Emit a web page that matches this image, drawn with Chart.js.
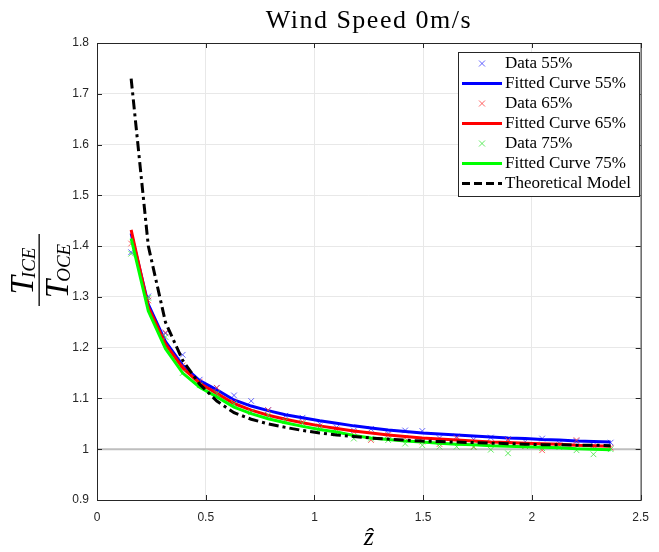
<!DOCTYPE html>
<html>
<head>
<meta charset="utf-8">
<script src="https://cdn.jsdelivr.net/npm/chart.js@4/dist/chart.umd.min.js"></script>
<style>
  html, body { margin: 0; padding: 0; background: #fff; }
  #wrap { width: 659px; height: 552px; }
</style>
</head>
<body>
<div id="wrap"><canvas id="chart" width="659" height="552"></canvas></div>
<script>
const zHat = [0.157, 0.236, 0.315, 0.394, 0.472, 0.551, 0.630, 0.709, 0.787, 0.866, 0.945, 1.024, 1.102, 1.181, 1.260,
  1.339, 1.417, 1.496, 1.575, 1.654, 1.732, 1.811, 1.890, 1.969, 2.047, 2.126, 2.205, 2.283, 2.362]

const data55 = [1.388, 1.301, 1.228, 1.186, 1.137, 1.121, 1.106, 1.095, 1.077, 1.066, 1.062, 1.050, 1.043, 1.037, 1.040,
  1.031, 1.037, 1.036, 1.022, 1.025, 1.019, 1.023, 1.020, 1.015, 1.021, 1.012, 1.016, 1.008, 1.013]
const fit55 = [1.425, 1.285, 1.212, 1.165, 1.135, 1.117, 1.097, 1.085, 1.076, 1.068, 1.062, 1.056, 1.051, 1.046, 1.042,
  1.038, 1.035, 1.032, 1.030, 1.028, 1.026, 1.024, 1.022, 1.021, 1.019, 1.018, 1.016, 1.015, 1.014]

const data65 = [1.405, 1.293, 1.230, 1.165, 1.133, 1.121, 1.093, 1.073, 1.077, 1.056, 1.054, 1.045, 1.039, 1.034, 1.018,
  1.028, 1.022, 1.015, 1.010, 1.022, 1.005, 1.012, 1.018, 1.006, 0.998, 1.008, 1.018, 1.004, 1.003]
const fit65 = [1.432, 1.280, 1.207, 1.160, 1.130, 1.110, 1.090, 1.077, 1.067, 1.059, 1.052, 1.046, 1.041, 1.036, 1.032,
  1.028, 1.025, 1.022, 1.020, 1.018, 1.016, 1.014, 1.013, 1.012, 1.011, 1.010, 1.008, 1.007, 1.006]

const data75 = [1.385, 1.298, 1.221, 1.150, 1.126, 1.110, 1.089, 1.073, 1.067, 1.056, 1.051, 1.041, 1.031, 1.021, 1.021,
  1.018, 1.011, 1.008, 1.005, 1.005, 1.004, 0.999, 0.992, 1.006, 1.002, 1.004, 0.998, 0.990, 1.000]
const fit75 = [1.415, 1.272, 1.198, 1.150, 1.122, 1.103, 1.083, 1.070, 1.060, 1.052, 1.045, 1.039, 1.034, 1.027, 1.022,
  1.019, 1.016, 1.014, 1.012, 1.010, 1.009, 1.007, 1.006, 1.005, 1.004, 1.003, 1.001, 1.000, 0.999]

const theory = [1.730, 1.400, 1.250, 1.175, 1.128, 1.095, 1.072, 1.059, 1.050, 1.043, 1.037, 1.032, 1.028, 1.025, 1.022,
  1.020, 1.018, 1.016, 1.015, 1.014, 1.013, 1.012, 1.011, 1.010, 1.009, 1.009, 1.008, 1.008, 1.007]

const refLineX = [0, 2.5]
const refLineY = [1, 1]

const xTicks = [0, 0.5, 1, 1.5, 2, 2.5]
const yTicks = [0.9, 1.0, 1.1, 1.2, 1.3, 1.4, 1.5, 1.6, 1.7, 1.8]

const titleText = 'Wind Speed 0m/s'

const pts = (xs, ys) => xs.map((x, i) => ({x: x, y: ys[i]}))

;(() => {
  const canvas = document.getElementById('chart')
  const ink = 'rgb(38, 38, 38)'
  const serif = '"Liberation Serif", "DejaVu Serif", serif'

  function scatterSet(label, values, color, order) {
    return {
      label: label, data: pts(zHat, values), type: 'scatter', order: order,
      showLine: false, pointStyle: 'crossRot', pointRadius: 4,
      pointBorderWidth: 1, borderColor: color, backgroundColor: color
    }
  }

  function lineSet(label, values, color, order, dash) {
    return {
      label: label, data: pts(zHat, values), type: 'line', order: order,
      borderColor: color, backgroundColor: color, borderWidth: 3,
      borderDash: dash || [], pointRadius: 0, tension: 0, fill: false
    }
  }

  const datasets = [
    scatterSet('Data 55%', data55, 'rgba(60, 60, 255, 0.8)', 7),
    lineSet('Fitted Curve 55%', fit55, 'rgb(0, 0, 255)', 6),
    scatterSet('Data 65%', data65, 'rgba(255, 60, 60, 0.8)', 5),
    lineSet('Fitted Curve 65%', fit65, 'rgb(255, 0, 0)', 4),
    scatterSet('Data 75%', data75, 'rgba(60, 230, 60, 0.8)', 3),
    lineSet('Fitted Curve 75%', fit75, 'rgb(0, 255, 0)', 2),
    lineSet('Theoretical Model', theory, 'rgb(0, 0, 0)', 1, [10, 4, 3, 4]),
    {
      label: '', data: pts(refLineX, refLineY), type: 'line', order: 10,
      borderColor: 'rgb(190, 190, 190)', borderWidth: 2, pointRadius: 0, fill: false
    }
  ]

  const decor = {
    id: 'decor',
    afterDraw(chart) {
      const ctx = chart.ctx
      const a = chart.chartArea
      const xs = chart.scales.x
      const ys = chart.scales.y
      ctx.save()

      // box + inward ticks
      ctx.strokeStyle = ink
      ctx.lineWidth = 1
      ctx.strokeRect(a.left + 0.5, a.top + 0.5, a.right - a.left, a.bottom - a.top)
      ctx.beginPath()
      xTicks.forEach(v => {
        const p = Math.round(xs.getPixelForValue(v)) + 0.5
        ctx.moveTo(p, a.bottom); ctx.lineTo(p, a.bottom - 5)
        ctx.moveTo(p, a.top); ctx.lineTo(p, a.top + 5)
      })
      yTicks.forEach(v => {
        const p = Math.round(ys.getPixelForValue(v)) + 0.5
        ctx.moveTo(a.left, p); ctx.lineTo(a.left + 5, p)
        ctx.moveTo(a.right, p); ctx.lineTo(a.right - 5, p)
      })
      ctx.stroke()

      // title
      ctx.fillStyle = '#000'
      ctx.textAlign = 'center'
      ctx.textBaseline = 'alphabetic'
      ctx.font = '26px ' + serif
      ctx.letterSpacing = '1.5px'
      ctx.fillText(titleText, (a.left + a.right) / 2, 28)
      ctx.letterSpacing = '0px'

      // x label
      ctx.font = 'italic 26px ' + serif
      ctx.fillText('ẑ', (a.left + a.right) / 2, 545)

      // y label: fraction T_ICE / T_OCE
      ctx.save()
      ctx.translate(0, 270)
      ctx.rotate(-Math.PI / 2)
      ctx.textAlign = 'left'
      const big = 'italic 33px ' + serif
      const small = 'italic 19px ' + serif
      function frac(sub, base) {
        ctx.font = big
        const w1 = ctx.measureText('T').width
        ctx.font = small
        const w2 = ctx.measureText(sub).width
        const x0 = -(w1 + w2) / 2
        ctx.font = big
        ctx.fillText('T', x0, base)
        ctx.font = small
        ctx.fillText(sub, x0 + w1 - 2, base + 2)
      }
      frac('ICE', 33)
      frac('OCE', 68)
      ctx.fillRect(-36, 38.5, 72, 1.3)
      ctx.restore()

      // legend
      const lx = 458, ly = 52, lw = 181, lh = 144
      ctx.fillStyle = '#fff'
      ctx.fillRect(lx, ly, lw, lh)
      ctx.strokeStyle = 'rgb(38, 38, 38)'
      ctx.lineWidth = 1
      ctx.strokeRect(lx + 0.5, ly + 0.5, lw, lh)
      ctx.font = '17px ' + serif
      ctx.textAlign = 'left'
      ctx.textBaseline = 'middle'
      const items = chart.data.datasets.filter(d => d.label)
      items.forEach((d, i) => {
        const y = 63.5 + i * 20
        if (d.type === 'scatter') {
          ctx.strokeStyle = d.borderColor
          ctx.lineWidth = 1
          ctx.beginPath()
          ctx.moveTo(479, y - 3); ctx.lineTo(485, y + 3)
          ctx.moveTo(485, y - 3); ctx.lineTo(479, y + 3)
          ctx.stroke()
        } else {
          ctx.strokeStyle = d.borderColor
          ctx.lineWidth = 3
          ctx.setLineDash(d.borderDash.length ? [8, 4] : [])
          ctx.beginPath()
          ctx.moveTo(462, y); ctx.lineTo(502, y)
          ctx.stroke()
          ctx.setLineDash([])
        }
        ctx.fillStyle = '#000'
        ctx.fillText(d.label, 505, y)
      })
      ctx.restore()
    }
  }

  new Chart(canvas, {
    data: {datasets: datasets},
    options: {
      responsive: false,
      animation: false,
      events: [],
      layout: {padding: {left: 0, top: 43, right: 9, bottom: 22}},
      plugins: {legend: {display: false}, title: {display: false}, tooltip: {enabled: false}},
      scales: {
        x: {
          type: 'linear', min: 0, max: 2.5,
          afterFit: s => { s.height = 30 },
          afterBuildTicks: s => { s.ticks = xTicks.map(v => ({value: v})) },
          border: {display: false},
          grid: {color: 'rgb(232, 232, 232)', drawTicks: false},
          ticks: {
            color: ink, padding: 10, maxRotation: 0,
            font: {family: '"Liberation Sans", Arial, sans-serif', size: 12},
            callback: v => String(v)
          }
        },
        y: {
          type: 'linear', min: 0.9, max: 1.8,
          afterFit: s => { s.width = 97 },
          afterBuildTicks: s => { s.ticks = yTicks.map(v => ({value: v})) },
          border: {display: false},
          grid: {color: 'rgb(232, 232, 232)', drawTicks: false},
          ticks: {
            color: ink, padding: 8,
            font: {family: '"Liberation Sans", Arial, sans-serif', size: 12},
            callback: v => Math.abs(v - 1) < 1e-9 ? '1' : v.toFixed(1)
          }
        }
      }
    },
    plugins: [decor]
  })
})();
</script>
</body>
</html>
